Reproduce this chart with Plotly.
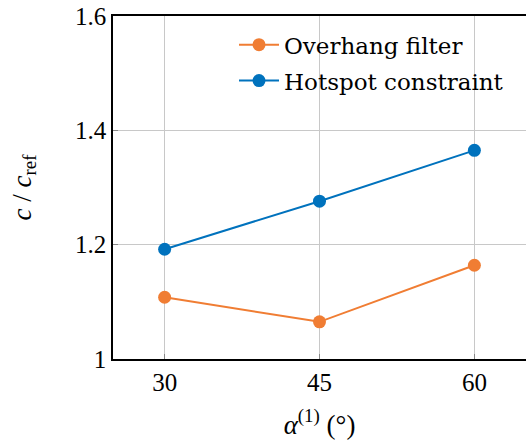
import plotly.graph_objects as go

# Overhang angle of the first layer (degrees)
alpha = [30, 45, 60]

# Normalised cost c / c_ref for each approach
overhang_filter = [1.108, 1.065, 1.164]
hotspot_constraint = [1.192, 1.276, 1.365]

x_ticks = [30, 45, 60]
y_ticks = [1.0, 1.2, 1.4, 1.6]
y_tick_text = ["1", "1.2", "1.4", "1.6"]

ORANGE = "#F07D33"
BLUE = "#0072BD"
FONT = "Liberation Serif, DejaVu Serif, serif"
LEGEND_FONT = "DejaVu Serif, Liberation Serif, serif"

fig = go.Figure()
fig.add_trace(go.Scatter(
    x=alpha, y=overhang_filter, mode="lines+markers",
    name="Overhang filter", legendgroup="overhang",
    line=dict(color=ORANGE, width=2),
    marker=dict(color=ORANGE, size=13),
))
fig.add_trace(go.Scatter(
    x=alpha, y=hotspot_constraint, mode="lines+markers",
    name="Hotspot constraint", legendgroup="hotspot",
    line=dict(color=BLUE, width=2),
    marker=dict(color=BLUE, size=13),
))

fig.update_layout(
    width=526, height=442,
    margin=dict(l=113, r=0, t=16, b=83),
    paper_bgcolor="white", plot_bgcolor="white",
    font=dict(family=FONT, size=25, color="black"),
    showlegend=True,
    legend=dict(
        x=0.293, y=0.979, xanchor="left", yanchor="top",
        bgcolor="rgba(255,255,255,0)", borderwidth=0,
        font=dict(family=LEGEND_FONT, size=23, color="black"),
        tracegroupgap=3, itemwidth=40,
    ),
    xaxis=dict(
        range=[25, 65], tickvals=x_ticks,
        showgrid=True, gridcolor="#c8c8c8", gridwidth=1,
        showline=True, linecolor="black", linewidth=1.5, mirror=True,
        ticks="inside", ticklen=5, tickcolor="#888888",
        zeroline=False,
        title=dict(text="<i>α</i><sup>(1)</sup> (°)", standoff=20,
                   font=dict(family=FONT, size=27)),
    ),
    yaxis=dict(
        range=[1.0, 1.6], tickvals=y_ticks, ticktext=y_tick_text,
        showgrid=True, gridcolor="#c8c8c8", gridwidth=1,
        showline=True, linecolor="black", linewidth=1.5,
        ticks="inside", ticklen=5, tickcolor="#888888",
        zeroline=False,
        title=dict(text="<i>c</i> / <i>c</i><sub>ref</sub>", standoff=36,
                   font=dict(family=FONT, size=27)),
    ),
)

fig.write_html("out.html")
